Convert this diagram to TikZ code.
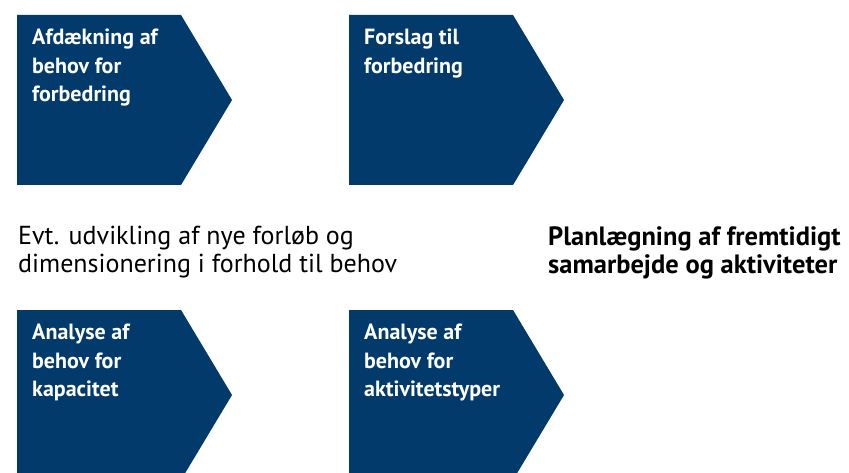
\documentclass[tikz,border=0pt]{standalone}
\usepackage{fontspec}
\setmainfont{PT Sans}
\definecolor{navy}{RGB}{2,58,107}
\tikzset{
  chevron/.style={fill=navy, draw=none},
  boxtext/.style={anchor=north west, inner sep=0pt, align=left, text=white,
    font=\fontsize{22}{28.5}\selectfont\bfseries},
  midtext/.style={anchor=north west, inner sep=0pt, align=left,
    font=\fontsize{26}{28}\selectfont}
}
\begin{document}
\begin{tikzpicture}[x=1pt, y=-1pt]
 \clip (0,0) rectangle (849,473);
 % chevrons with their captions
 \foreach \x/\y/\name/\txt in {17/15/afd/{Afdækning af\\behov for\\forbedring},
                              349/15/fors/{Forslag til\\forbedring},
                              17/310/kap/{Analyse af\\behov for\\kapacitet},
                              349/310/akt/{Analyse af\\behov for\\aktivitetstyper}}{
   \fill[chevron] (\x,\y) -- ++(164,0) -- ++(51,85) -- ++(-51,85) -- ++(-164,0) -- cycle;
   \node[boxtext] (\name) at (\x+15,\y+14) {\txt};
 }
 % texts between the rows
 \node[midtext] (udv) at (18,226) {Evt. udvikling af nye forløb og\\dimensionering i forhold til behov};
 \node[midtext, font=\fontsize{26.5}{28}\selectfont\bfseries] (plan) at (548,226) {Planlægning af fremtidigt\\samarbejde og aktiviteter};
\end{tikzpicture}
\end{document}
